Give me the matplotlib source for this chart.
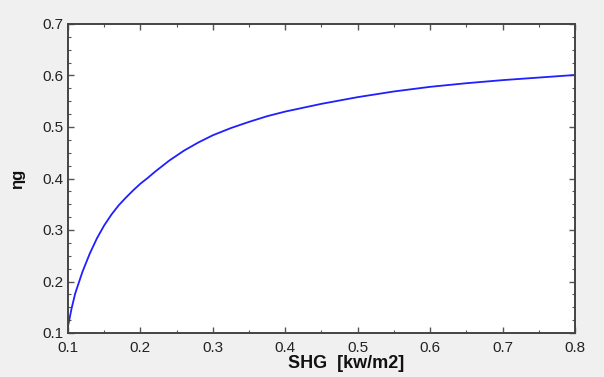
import matplotlib
matplotlib.use("Agg")
import matplotlib.pyplot as plt
from matplotlib.ticker import MultipleLocator

shg = [0.10, 0.105, 0.11, 0.12, 0.13, 0.14, 0.15, 0.16, 0.17, 0.18, 0.19, 0.20, 0.21, 0.22,
       0.24, 0.26, 0.28, 0.30, 0.325, 0.35, 0.375, 0.40, 0.45, 0.50, 0.55, 0.60, 0.65, 0.70,
       0.75, 0.80]
eta_g = [0.113, 0.148, 0.177, 0.219, 0.254, 0.284, 0.309, 0.330, 0.348, 0.363, 0.377, 0.390,
         0.401, 0.413, 0.435, 0.454, 0.470, 0.484, 0.498, 0.510, 0.521, 0.530, 0.545, 0.558,
         0.569, 0.578, 0.585, 0.591, 0.596, 0.601]

plt.rcParams['font.family'] = ['Liberation Sans', 'DejaVu Sans']

fig = plt.figure(figsize=(6.04, 3.77), dpi=100, facecolor='#f0f0f0')
ax = fig.add_axes([68/604, 1-333/377, 507/604, 309/377])
ax.set_facecolor('white')
ax.plot(shg, eta_g, color='#1f1fff', lw=1.3)

ax.set_xlim(0.1, 0.8)
ax.set_ylim(0.1, 0.7)
ax.xaxis.set_major_locator(MultipleLocator(0.1))
ax.xaxis.set_minor_locator(MultipleLocator(0.05))
ax.yaxis.set_major_locator(MultipleLocator(0.1))
ax.yaxis.set_minor_locator(MultipleLocator(0.025))
ax.xaxis.set_major_formatter(plt.FuncFormatter(lambda v, p: f"{v:.1f}"))
ax.yaxis.set_major_formatter(plt.FuncFormatter(lambda v, p: f"{v:.1f}"))

for s in ax.spines.values():
    s.set_color('#444444')
    s.set_linewidth(1.4)
ax.tick_params(which='both', direction='in', top=True, right=True, colors='#555555',
               labelcolor='#222222', labelsize=11)
ax.tick_params(which='major', length=4, width=1)
ax.tick_params(which='minor', length=2, width=0.8)
ax.tick_params(axis='x', pad=6)
ax.tick_params(axis='y', pad=3)

ax.set_xlabel("SHG  [kw/m2]", fontsize=13, fontweight='bold', color='#111111')
ax.xaxis.set_label_coords(0.548, -0.07)
ax.set_ylabel("ηg", fontsize=12, fontweight='bold', color='#111111')
ax.yaxis.set_label_coords(-0.085, 0.5)

fig.savefig("out.png", dpi=100, facecolor=fig.get_facecolor())
